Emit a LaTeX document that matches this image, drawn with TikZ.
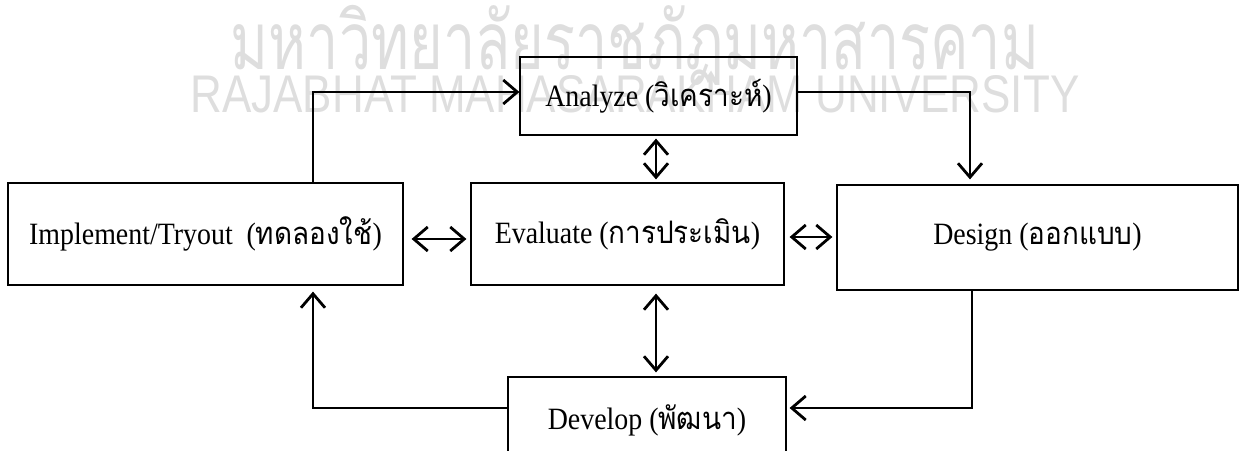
\documentclass[tikz,border=0pt]{standalone}
\usepackage{fontspec}
\setmainfont[FakeStretch=0.9]{Liberation Serif}
\newfontfamily\thaifont[Script=Thai,FakeStretch=0.9]{Loma}
\newfontfamily\marksans{Liberation Sans}
\usetikzlibrary{arrows.meta}
\tikzstyle{box} = [draw, rectangle, line width=1.2pt, inner sep=0pt,
 font=\fontsize{31}{34}\selectfont]
\tikzstyle{arrow} = [line width=2.8pt, -{Straight Barb[length=14pt, width=24pt]}]
\tikzstyle{dblarrow} = [line width=2.8pt,
 {Straight Barb[length=14pt, width=24pt]}-{Straight Barb[length=14pt, width=24pt]}]
\tikzstyle{watermark} = [color=black!13, inner sep=0pt]

\begin{document}
\begin{tikzpicture}[x=1pt, y=-1pt]
 	\useasboundingbox (0,0) rectangle (1240,450);
 	
 	% watermark behind the figure
 	\node [watermark, font=\thaifont\fontsize{80}{80}\selectfont, xscale=0.8] (wth) at (635,45) {มหาวิทยาลัยราชภัฏมหาสารคาม};
 	\node [watermark, font=\marksans\fontsize{53}{53}\selectfont, xscale=0.83] (wen) at (635,94) {RAJABHAT MAHASARAKHAM UNIVERSITY};
 	
 	\node [box, minimum width=277pt, minimum height=78pt] (ana) at (658.5,96) {Analyze ({\thaifont วิเคราะห์})};
 	\node [box, minimum width=395pt, minimum height=102pt] (imp) at (205.5,234) {Implement/Tryout~ ({\thaifont ทดลองใช้})};
 	\node [box, minimum width=313pt, minimum height=102pt] (eva) at (627.5,234) {Evaluate ({\thaifont การประเมิน})};
 	\node [box, minimum width=401pt, minimum height=105pt] (des) at (1037.5,237.5) {Design ({\thaifont ออกแบบ})};
 	\node [box, minimum width=278pt, minimum height=86pt] (dev) at (647,420) {Develop ({\thaifont พัฒนา})};
 	
 	\draw [arrow] ([xshift=107.5pt]imp.north) |- ([yshift=4pt]ana.west);
 	\draw [arrow, shorten >=5pt] ([yshift=4pt]ana.east) -| ([xshift=-67.5pt]des.north);
 	\draw [arrow, shorten >=3pt] ([xshift=-65.5pt]des.south) |- ([yshift=12pt]dev.east);
 	\draw [arrow, shorten >=6pt] ([yshift=12pt]dev.west) -| ([xshift=107.5pt]imp.south);
 	
 	\draw [dblarrow, shorten <=3pt, shorten >=3pt] ([xshift=-2.5pt]ana.south) -- ([xshift=-2.5pt]ana.south |- eva.north);
 	\draw [dblarrow, shorten <=8pt, shorten >=4pt] ([xshift=28.5pt]eva.south) -- ([xshift=28.5pt]eva.south |- dev.north);
 	\draw [dblarrow, shorten <=8pt, shorten >=4pt] ([yshift=-5pt]imp.east) -- ([yshift=-5pt]imp.east -| eva.west);
 	\draw [dblarrow, shorten <=5pt, shorten >=4pt] ([yshift=-3pt]eva.east) -- ([yshift=-3pt]eva.east -| des.west);
 	
\end{tikzpicture}
\end{document}
